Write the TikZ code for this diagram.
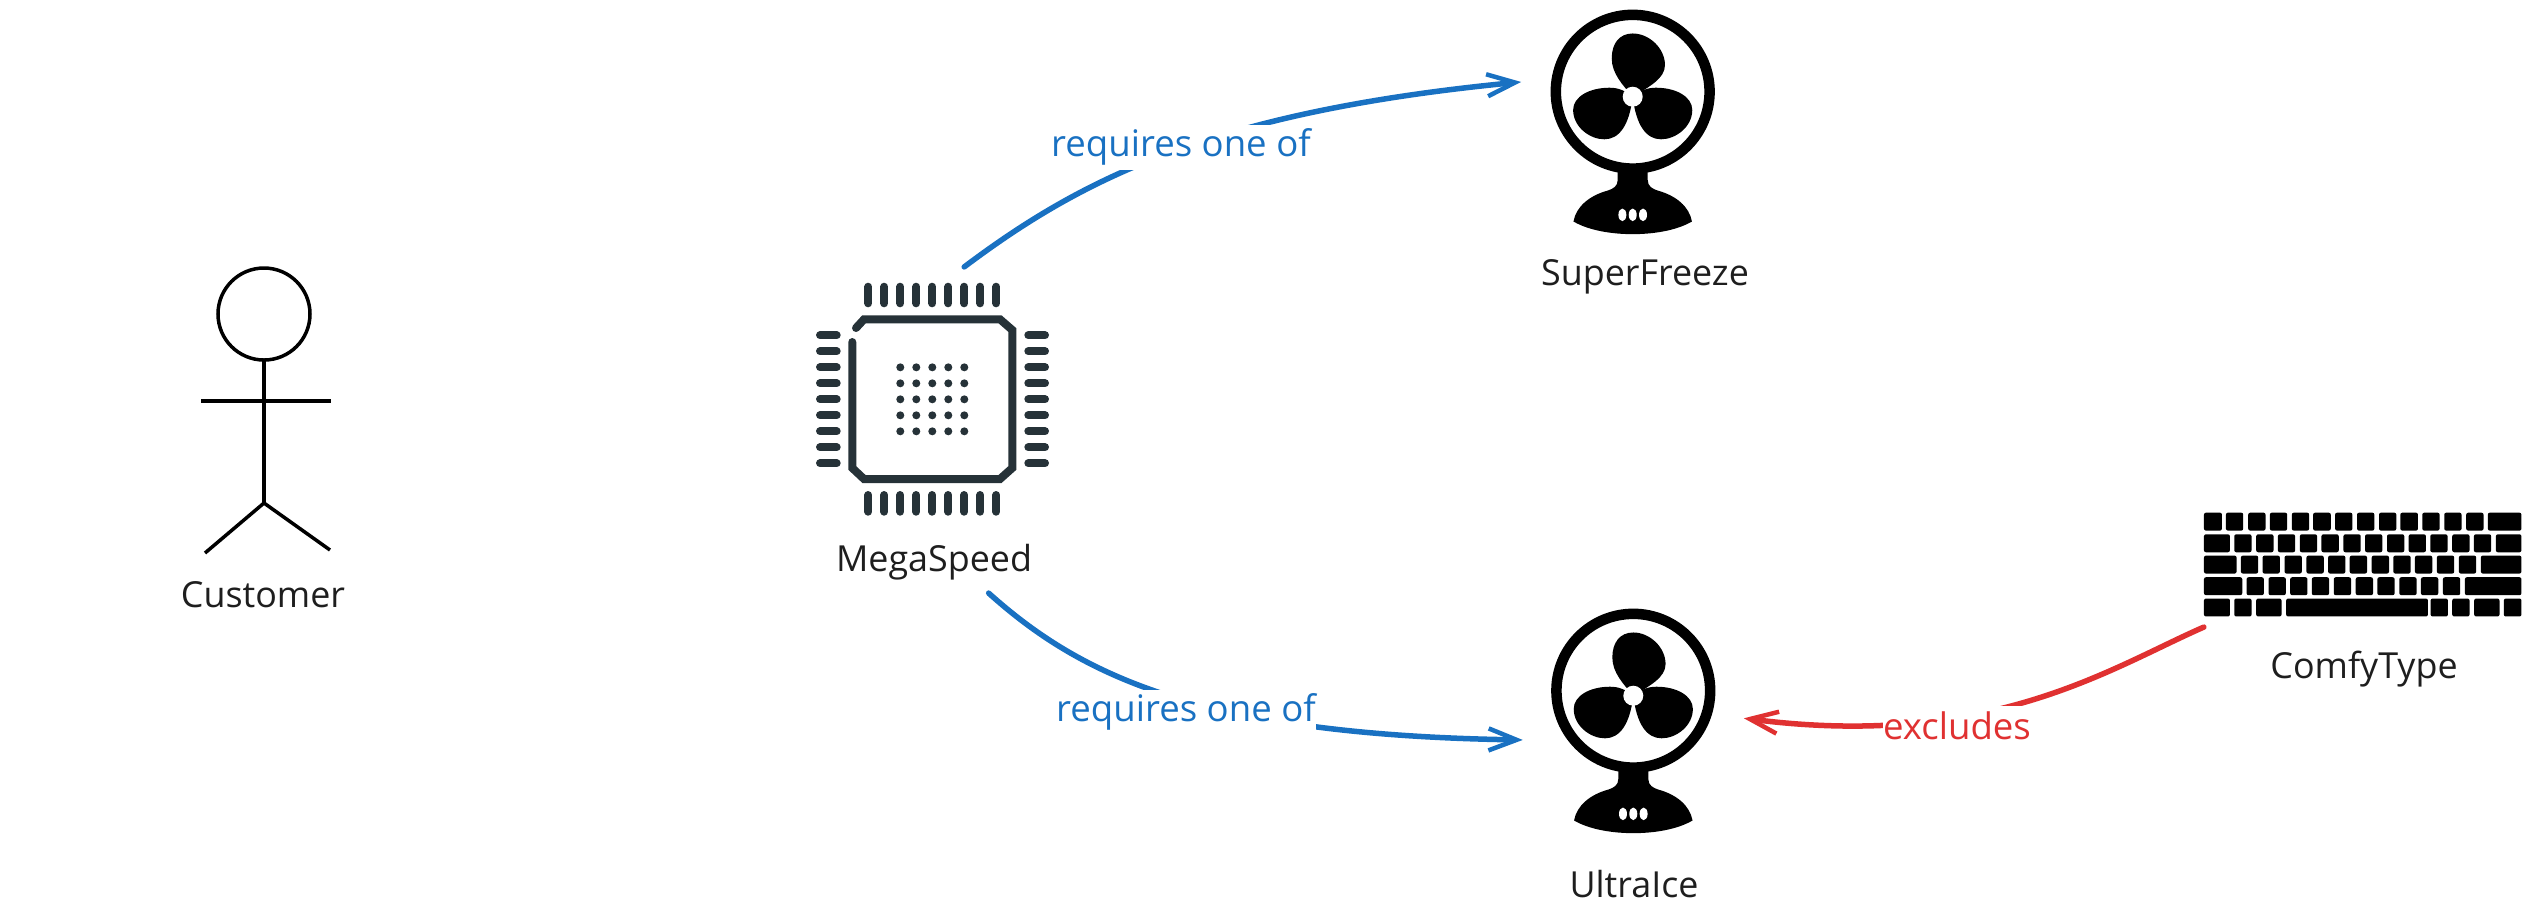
\documentclass[tikz,border=0pt]{standalone}
\usepackage{fontspec}
\setmainfont{Open Sans}
\usetikzlibrary{arrows.meta,positioning}
\definecolor{reqblue}{HTML}{1971C2}
\definecolor{exred}{HTML}{E03131}
\definecolor{chipdark}{HTML}{263238}
\definecolor{inkdark}{HTML}{1E1E1E}
\tikzset{
  caption/.style={font=\fontsize{10.2}{12}\selectfont,text=inkdark,inner sep=0pt,anchor=base},
  edgelabel/.style={font=\fontsize{10.4}{12}\selectfont,fill=white,inner sep=0pt,minimum height=0.45cm},
  iconbox/.style={inner sep=0pt,outer sep=0pt},
  reqline/.style={reqblue,line width=0.055cm,line cap=round,-{Straight Barb[length=0.28cm,width=0.22cm,line width=0.045cm]}},
  exline/.style={exred,line width=0.055cm,line cap=round,-{Straight Barb[length=0.28cm,width=0.22cm,line width=0.045cm]}},
  fanicon/.pic={
    \begin{scope}[x=0.003333cm,y=-0.003333cm]
      \draw [black,line width=0.105cm] (0,0) circle (231);
      \fill [black] (-45,235) -- (-45,265) .. controls (-45,285) and (-60,292) .. (-75,297) .. controls (-130,312) and (-170,345) .. (-178,390) .. controls (-130,418) and (-60,428) .. (0,428) .. controls (60,428) and (130,418) .. (178,390) .. controls (170,345) and (130,312) .. (75,297) .. controls (60,292) and (45,285) .. (45,265) -- (45,235) -- cycle;
      \foreach \dotx in {-31,0,31}
        \fill [white] (\dotx,370) ellipse (12 and 19);
      \fill [black] (0,15) .. controls (-30,-20) and (-63,-55) .. (-63,-100) .. controls (-63,-145) and (-40,-175) .. (0,-175) .. controls (50,-175) and (97,-130) .. (97,-80) .. controls (97,-40) and (50,-15) .. (0,15);
      \foreach \side in {1,-1}
        \fill [black,xscale=\side] (0,15) .. controls (25,-5) and (45,-12) .. (70,-12) .. controls (130,-12) and (179,15) .. (179,55) .. controls (179,105) and (130,143) .. (85,143) .. controls (40,143) and (10,100) .. (0,15);
      \fill [white] (0,15) circle (30);
    \end{scope}
  }
}
\begin{document}
\begin{tikzpicture}[x=0.01cm,y=-0.01cm]
  \useasboundingbox (0,0) rectangle (2532,917);

  % customer
  \draw [black,line width=0.035cm] (264,314) circle (46);
  \draw [black,line width=0.035cm] (264,360) -- (264,503);
  \draw [black,line width=0.035cm] (201,401) -- (331,401);
  \draw [black,line width=0.035cm] (205,553) -- (264,503) -- (330,550);
  \node [caption] (customer) at (263,607) {Customer};

  % megaspeed chip
  \foreach \k in {0,...,8} {
    \draw [chipdark,line width=0.08cm,line cap=round] (868.3+16*\k,286.7) -- (868.3+16*\k,303.3);
    \draw [chipdark,line width=0.08cm,line cap=round] (868.3+16*\k,495) -- (868.3+16*\k,511.7);
    \draw [chipdark,line width=0.08cm,line cap=round] (820,335.3+16*\k) -- (836.7,335.3+16*\k);
    \draw [chipdark,line width=0.08cm,line cap=round] (1028.3,335.3+16*\k) -- (1045,335.3+16*\k);
  }
  \draw [chipdark,line width=0.08cm,line cap=round] (856,328) -- (864,319.3) -- (1000,319.3) -- (1012.3,330) -- (1012.3,468) -- (1000,479) -- (864,479) -- (852.3,468) -- (852.3,342);
  \foreach \i in {0,...,4}
    \foreach \j in {0,...,4}
      \fill [chipdark] (900.3+16*\i,367.3+16*\j) circle (4);
  \node [iconbox,minimum width=2.25cm,minimum height=3.26cm] (megaspeed) at (932.5,430) {};
  \node [caption] (megacap) at (934,571) {MegaSpeed};

  % fans
  \pic at (1632.7,91.7) {fanicon};
  \node [iconbox,minimum width=2.23cm,minimum height=2.23cm] (superfreeze) at (1632.7,91.7) {};
  \node [caption] (freezecap) at (1645,285) {SuperFreeze};
  \pic at (1633.3,690.7) {fanicon};
  \node [iconbox,minimum width=2.21cm,minimum height=2.21cm] (ultraice) at (1633.3,690.7) {};
  \node [caption] (icecap) at (1634,897) {UltraIce};

  % keyboard
  \begin{scope}[shift={(2180,500)},x=0.003333cm,y=-0.003333cm]
    \foreach \rowy/\rowkeys in {
      38/{72/126,138/190,205/257,270/322,336/388,400/453,466/518,532/584,598/650,662/715,728/780,794/846,860/912,925/1026},
      103/{72/150,163/215,229/281,294/346,360/412,425/477,491/543,556/608,622/674,687/739,752/804,818/870,883/935,949/1026},
      167/{72/170,183/235,248/300,314/366,380/432,445/497,510/562,576/628,641/693,706/758,772/824,838/890,904/1026},
      232/{72/187,200/252,266/318,331/383,396/448,462/514,528/580,593/645,659/711,724/776,790/842,856/1026},
      296/{72/150,163/215,229/305,319/745,753/805,818/870,884/960,973/1026}}
      \foreach \a/\b in \rowkeys
        \fill [black,rounded corners=0.02cm] (\a,\rowy) rectangle (\b,\rowy+54);
  \end{scope}
  \node [iconbox,minimum width=3.18cm,minimum height=1.14cm] (comfytype) at (2363,570) {};
  \node [caption] (comfycap) at (2364,678) {ComfyType};

  % connectors
  \draw [reqline] (megaspeed.79.4) .. controls (1080,180) and (1210,112) .. (superfreeze.175.6);
  \draw [reqline] (megaspeed.-71.8) .. controls (1080,675) and (1200,735) .. (ultraice.204.5);
  \draw [exline] (comfytype.south west) .. controls (2110,668) and (1990,750) .. (ultraice.-14.3);

  \node [edgelabel,text=reqblue] (reqfreeze) at (1181,147) {requires one of};
  \node [edgelabel,text=reqblue] (reqice) at (1186,712) {requires one of};
  \node [edgelabel,text=exred,minimum height=0.4cm,minimum width=1.48cm] (excl) at (1957,726) {excludes};
\end{tikzpicture}
\end{document}
